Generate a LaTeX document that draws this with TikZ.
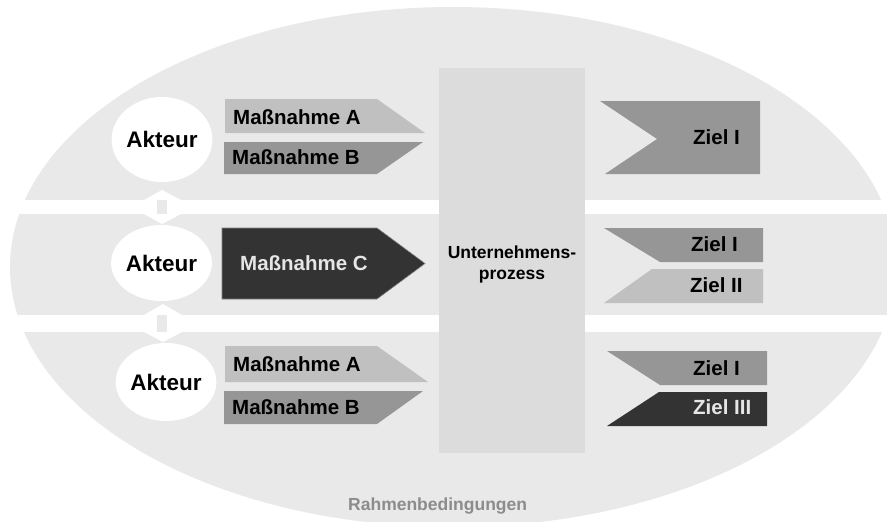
\documentclass[tikz,border=0pt]{standalone}
\usepackage{fontspec}
\setmainfont{Liberation Sans}
\usetikzlibrary{shapes.geometric}
\definecolor{bgell}{HTML}{E9E9E9}
\definecolor{procbox}{HTML}{DCDCDC}
\definecolor{lightg}{HTML}{C0C0C0}
\definecolor{midg}{HTML}{969696}
\definecolor{darkg}{HTML}{333333}
\definecolor{paletext}{HTML}{E6E6E6}
\definecolor{framet}{HTML}{8C8C8C}
\begin{document}
\begin{tikzpicture}[x=1pt,y=-1pt,
  lbl/.style={font=\bfseries\fontsize{20.5}{22}\selectfont, inner sep=0pt, anchor=base west},
  akteur/.style={ellipse, fill=white, inner sep=0pt, font=\bfseries\fontsize{22.5}{24}\selectfont},
  link/.style={fill=white},
  procfont/.style={font=\bfseries\fontsize{17.5}{20}\selectfont, inner sep=0pt, anchor=base}]
\useasboundingbox (0,0) rectangle (887,522);
\begin{scope}
  \clip (0,0) rectangle (887,522);
  \fill[bgell] (453,267) ellipse [x radius=443pt, y radius=260pt];
\end{scope}
% white gaps
\fill[white] (0,200) rectangle (887,214);
\fill[white] (0,315) rectangle (887,332);
% links between actors
\fill[link] (162,190) -- (144,200) -- (144,214) -- (162,224) -- (181,214) -- (181,200) -- cycle;
\fill[bgell] (157,200) rectangle (167,214);
\fill[link] (163,304) -- (144,315) -- (144,332) -- (163,342) -- (182,332) -- (182,315) -- cycle;
\fill[bgell] (157,315) rectangle (167,332);
% process box
\fill[procbox] (439,68) rectangle (585,453);
\node[procfont] (up1) at (512,258) {Unternehmens-};
\node[procfont] (up2) at (512,279) {prozess};
% actors
\node[akteur, minimum width=100pt, minimum height=85pt] (a1) at (162,139.5) {Akteur};
\node[akteur, minimum width=93pt, minimum height=76pt] (a2) at (161.5,263) {Akteur};
\node[akteur, minimum width=94pt, minimum height=78pt] (a3) at (166,382) {Akteur};
% row 1 measures
\fill[lightg] (225,99) -- (377,99) -- (425,133) -- (225,133) -- cycle;
\fill[midg] (224,142) -- (423,142) -- (377,174) -- (224,174) -- cycle;
\node[lbl] (m1a) at (233,124) {Maßnahme A};
\node[lbl] (m1b) at (232,164) {Maßnahme B};
% row 2 measure
\filldraw[fill=darkg, draw=gray, line width=0.6pt] (222,228) -- (377,228) -- (425,263.5) -- (377,299) -- (222,299) -- cycle;
\node[lbl, text=paletext] (m2c) at (240,270) {Maßnahme C};
% row 3 measures
\fill[lightg] (225,346) -- (377,346) -- (428,382) -- (225,382) -- cycle;
\fill[midg] (224,391) -- (423,391) -- (377,424) -- (224,424) -- cycle;
\node[lbl] (m3a) at (233,371) {Maßnahme A};
\node[lbl] (m3b) at (232,414) {Maßnahme B};
% goals row 1
\fill[midg] (600,101) -- (760,101) -- (760,174) -- (605,174) -- (657,139) -- cycle;
\node[lbl] (z1) at (693,144) {Ziel I};
% goals row 2
\fill[midg] (604,228) -- (763,228) -- (763,262) -- (660,262) -- cycle;
\fill[lightg] (652,269) -- (763,269) -- (763,303) -- (604,303) -- cycle;
\node[lbl] (z2a) at (691,251) {Ziel I};
\node[lbl] (z2b) at (690,292) {Ziel II};
% goals row 3
\fill[midg] (607,351) -- (767,351) -- (767,385) -- (660,385) -- cycle;
\fill[darkg] (659,392) -- (767,392) -- (767,426) -- (607,426) -- cycle;
\node[lbl] (z3a) at (693,375) {Ziel I};
\node[lbl, text=paletext] (z3b) at (693,414) {Ziel III};
% frame label
\node[procfont, anchor=base west, text=framet] (rb) at (348,510) {Rahmenbedingungen};
\end{tikzpicture}
\end{document}
